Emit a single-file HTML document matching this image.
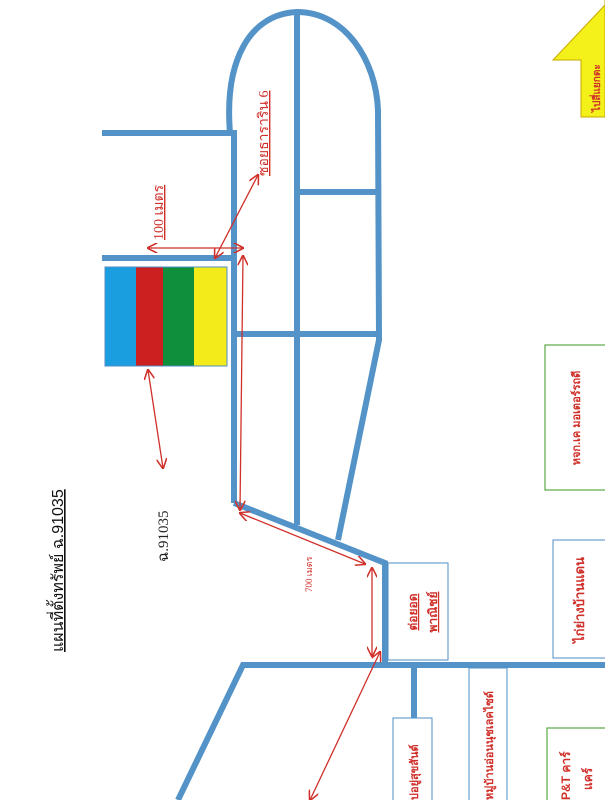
<!DOCTYPE html>
<html><head><meta charset="utf-8"><style>
html,body{margin:0;padding:0;background:#fff;}
svg{display:block;}
text{font-family:"Liberation Sans","Noto Sans CJK SC",sans-serif;}
</style></head><body>
<svg width="605" height="800" viewBox="0 0 605 800" xmlns="http://www.w3.org/2000/svg">
<defs>
<marker id="a" viewBox="0 0 10 10" refX="9" refY="5" markerWidth="8" markerHeight="8" orient="auto-start-reverse">
<path d="M0,0 L10,5 L0,10" fill="none" stroke="#d0302a" stroke-width="1.5"/></marker>
</defs>
<g stroke="#5393c8" stroke-width="6" fill="none" stroke-linejoin="miter">
<path d="M102,133 H234 V503"/>
<path d="M102,258 H234"/>
<path d="M230,133 C224,60 250,14 297,12 C345,12 376,60 378,110 L379,340 L338,540"/>
<path d="M297,12 V525"/>
<path d="M297,192 H378"/>
<path d="M234,334 H379"/>
<path d="M234,503 L385,563 V665"/>
<path d="M178,800 L243,665 H605"/>
<path d="M414,665 V718"/>
</g>
<rect x="105" y="267" width="31" height="99" fill="#1a9ee0"/>
<rect x="136" y="267" width="27" height="99" fill="#cc1f1f"/>
<rect x="163" y="267" width="31" height="99" fill="#0f8f3c"/>
<rect x="194" y="267" width="33" height="99" fill="#f4ec1a"/>
<rect x="105" y="267" width="122" height="99" fill="none" stroke="#4f8ec4" stroke-width="1"/>
<g stroke="#d0302a" stroke-width="1.3" fill="none" marker-start="url(#a)" marker-end="url(#a)">
<line x1="148" y1="248" x2="243" y2="248"/>
<line x1="215" y1="258" x2="258" y2="175"/>
<line x1="243" y1="256" x2="240" y2="510"/>
<line x1="240" y1="513" x2="365" y2="564"/>
<line x1="372" y1="568" x2="372" y2="656"/>
<line x1="380" y1="652" x2="310" y2="800"/>
</g>
<line x1="148" y1="370" x2="163" y2="468" stroke="#d0302a" stroke-width="1.3" marker-start="url(#a)" marker-end="url(#a)"/>
<rect x="388" y="563" width="60" height="97" fill="#fff" stroke="#4f8ec4" stroke-width="1"/>
<rect x="545" y="345" width="65" height="145" fill="#fff" stroke="#5aa845" stroke-width="1.2"/>
<rect x="553" y="540" width="60" height="118" fill="#fff" stroke="#4f8ec4" stroke-width="1"/>
<rect x="393" y="718" width="39" height="90" fill="#fff" stroke="#4f8ec4" stroke-width="1"/>
<rect x="469" y="668" width="38" height="140" fill="#fff" stroke="#4f8ec4" stroke-width="1"/>
<rect x="547" y="728" width="65" height="80" fill="#fff" stroke="#5aa845" stroke-width="1.2"/>
<path d="M605,0 L605,117 L581,117 L581,60 L553,60 L605,5 Z" fill="#f4f01a" stroke="#c9a800" stroke-width="1"/>
<g fill="#d0302a" font-weight="bold" font-size="12">
<text transform="translate(417,612) rotate(-90)" text-anchor="middle" text-decoration="underline">ต่อยอด</text>
<text transform="translate(437,612) rotate(-90)" text-anchor="middle" text-decoration="underline">พาณิชย์</text>
<text transform="translate(580,418) rotate(-90)" text-anchor="middle" font-size="11">หจก.เค มอเตอร์รถดี</text>
<text transform="translate(584,600) rotate(-90)" text-anchor="middle" font-size="13">ไก่ย่างบ้านแดน</text>
<text transform="translate(418,800) rotate(-90)" font-size="11">บ่อยู่สุขสันต์</text>
<text transform="translate(493,800) rotate(-90)" font-size="11">หมู่บ้านอ่อนนุชเลคไซด์</text>
<text transform="translate(570,800) rotate(-90)" font-size="12">P&amp;T คาร์</text>
<text transform="translate(592,790) rotate(-90)" font-size="12">แคร์</text>
<text transform="translate(600,112) rotate(-90)" font-size="10">ไปสี่แยกตะ</text>
</g>
<g fill="#d0302a">
<text transform="translate(163,240) rotate(-90)" font-size="14" text-decoration="underline" style="font-family:'Liberation Serif','Noto Serif CJK SC',serif">100 เมตร</text>
<text transform="translate(268,176) rotate(-90)" font-size="14" text-decoration="underline" style="font-family:'Liberation Serif','Noto Serif CJK SC',serif">ซอยธาราริน 6</text>
<text transform="translate(312,592) rotate(-90)" font-size="9" style="font-family:'Liberation Serif','Noto Serif CJK SC',serif">700 เมตร</text>
</g>
<text transform="translate(168,562) rotate(-90)" font-size="15" fill="#222" style="font-family:'Liberation Serif','Noto Serif CJK SC',serif">ฉ.91035</text>
<text transform="translate(63,652) rotate(-90)" font-size="16" fill="#111" text-decoration="underline">แผนที่ตั้งทรัพย์ ฉ.91035</text>
</svg>
</body></html>
